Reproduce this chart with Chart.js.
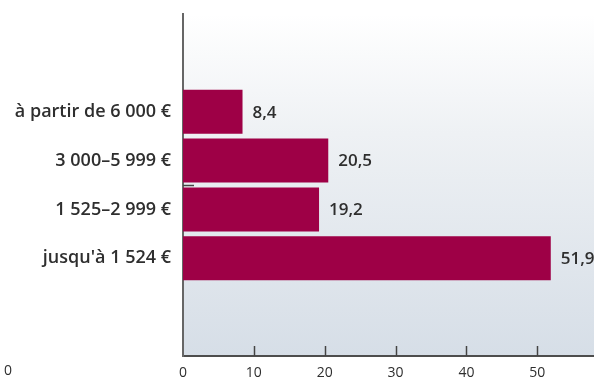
<!DOCTYPE html>
<html>
<head>
<meta charset="utf-8">
<script src="https://cdn.jsdelivr.net/npm/chart.js@4"></script>
<style>
  html, body { margin: 0; padding: 0; background: #fff; }
  #wrap { width: 594px; height: 380px; }
</style>
</head>
<body>
<div id="wrap"><canvas id="chart"></canvas></div>
<script>
// Data
const categories = ["à partir de 6 000 €", "3 000–5 999 €", "1 525–2 999 €", "jusqu'à 1 524 €"];
const values = [8.4, 20.5, 19.2, 51.9];
const valueLabels = ["8,4", "20,5", "19,2", "51,9"];
const xTicks = [0, 10, 20, 30, 40, 50];

// empty slots above and below the bars
const padTop = ["", ""];
const padBottom = ["", ""];
const labels = [...padTop, ...categories, ...padBottom];
const data = [...padTop.map(() => null), ...values, ...padBottom.map(() => null)];

const textColor = "#2e2e2e";
const fontFamily = "'Open Sans', 'Noto Sans', sans-serif";

// gradient behind the plot
const backgroundPlugin = {
  id: "plotBackground",
  beforeDraw(chart) {
    const { ctx, chartArea } = chart;
    const g = ctx.createLinearGradient(0, chartArea.top, 0, chartArea.bottom);
    g.addColorStop(0, "#ffffff");
    g.addColorStop(0.35, "#eef1f4");
    g.addColorStop(1, "#d6dee7");
    ctx.save();
    ctx.fillStyle = g;
    ctx.fillRect(chartArea.left, chartArea.top, chartArea.right - chartArea.left, chartArea.bottom - chartArea.top);
    ctx.restore();
  }
};

// inner tick marks, value labels and the odd stray marks
const overlayPlugin = {
  id: "overlay",
  afterDraw(chart) {
    const { ctx, chartArea } = chart;
    const x = chart.scales.x;
    const y = chart.scales.y;
    ctx.save();

    // ticks pointing up from the x axis
    ctx.strokeStyle = "#444";
    ctx.lineWidth = 1.5;
    xTicks.forEach(v => {
      if (v === 0) return;
      const px = Math.round(x.getPixelForValue(v)) + 0.5;
      ctx.beginPath();
      ctx.moveTo(px, chartArea.bottom);
      ctx.lineTo(px, chartArea.bottom - 10);
      ctx.stroke();
    });

    // stray tick on the y axis
    const midY = (y.getPixelForValue(padTop.length + 1) + y.getPixelForValue(padTop.length + 2)) / 2;
    ctx.beginPath();
    ctx.moveTo(chartArea.left, Math.round(midY) + 0.5);
    ctx.lineTo(chartArea.left + 11, Math.round(midY) + 0.5);
    ctx.stroke();

    // value labels
    ctx.fillStyle = textColor;
    ctx.font = "600 17px " + fontFamily;
    ctx.textAlign = "left";
    ctx.textBaseline = "middle";
    const meta = chart.getDatasetMeta(0);
    meta.data.forEach((bar, i) => {
      const k = i - padTop.length;
      if (k < 0 || k >= values.length) return;
      ctx.fillText(valueLabels[k], bar.x + 10, bar.y + 1);
    });

    // stray "0" at the far left
    ctx.font = "14px " + fontFamily;
    ctx.fillText("0", 4, chartArea.bottom + 15);
    ctx.restore();
  }
};

new Chart(document.getElementById("chart"), {
  type: "bar",
  data: {
    labels: labels,
    datasets: [{
      data: data,
      backgroundColor: "#9e0046",
      borderWidth: 0,
      barPercentage: 1,
      categoryPercentage: 0.9
    }]
  },
  options: {
    indexAxis: "y",
    responsive: true,
    maintainAspectRatio: false,
    animation: false,
    layout: { padding: { top: 14, right: 0, left: 0, bottom: 0 } },
    plugins: {
      legend: { display: false },
      tooltip: { enabled: false }
    },
    scales: {
      x: {
        min: 0,
        max: 58,
        afterBuildTicks: scale => {
          scale.ticks = xTicks.map(v => ({ value: v }));
        },
        afterFit: scale => { scale.height = 24; },
        grid: { display: false, drawTicks: false },
        border: { display: true, color: "#4d4d4d", width: 2 },
        ticks: {
          color: textColor,
          padding: 9,
          font: { family: fontFamily, size: 14 },
          maxRotation: 0
        }
      },
      y: {
        offset: false,
        afterFit: scale => {
          scale.width = 183;
          scale.paddingTop = 0;
          scale.paddingBottom = 0;
        },
        grid: { display: false, drawTicks: false },
        border: { display: true, color: "#666666", width: 2 },
        ticks: {
          autoSkip: false,
          color: textColor,
          padding: 12,
          font: { family: fontFamily, size: 18, weight: "600" }
        }
      }
    }
  },
  plugins: [backgroundPlugin, overlayPlugin]
});
</script>
</body>
</html>
